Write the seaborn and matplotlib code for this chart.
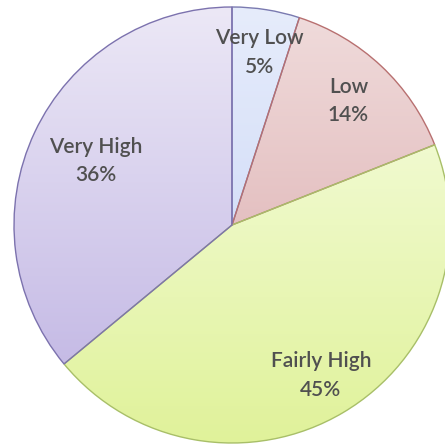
import numpy as np
import matplotlib
matplotlib.use("Agg")
import matplotlib.pyplot as plt
from matplotlib.colors import LinearSegmentedColormap
import seaborn as sns

# slice data, clockwise from 12 o'clock
categories = ["Very Low", "Low", "Fairly High", "Very High"]
percent = [5, 14, 45, 36]

# gradient colours (top, bottom) and edge colour per slice
top_colors = ["#e6ecfb", "#f0dcdc", "#f8fee8", "#ece8f6"]
bottom_colors = ["#c4d2f6", "#d8a4a6", "#e0f29a", "#bdb1e2"]
edge_colors = ["#7a7ab0", "#b87070", "#a8bf68", "#7c72ae"]
label_dist = [0.80, 0.78, 0.80, 0.69]

sns.set_theme(style="white")
plt.rcParams["font.family"] = ["Lato", "DejaVu Sans"]

fig = plt.figure(figsize=(4.45, 4.46), dpi=100)
ax = fig.add_axes([0, 0, 1, 1])

wedges, _ = ax.pie(percent, startangle=90, counterclock=False,
                   colors=bottom_colors, radius=1,
                   wedgeprops=dict(linewidth=1.0))

# vertical gradient fill inside each wedge
grad = np.linspace(0, 1, 256).reshape(-1, 1)
for w, c0, c1, ec in zip(wedges, top_colors, bottom_colors, edge_colors):
    w.set_edgecolor(ec)
    cmap = LinearSegmentedColormap.from_list("g", [c0, c1])
    im = ax.imshow(grad, cmap=cmap, extent=[-1, 1, -1, 1], origin="upper",
                   aspect="auto", zorder=1, interpolation="bilinear")
    im.set_clip_path(w)
    w.set_facecolor("none")
    w.set_zorder(2)

# labels placed along each wedge's mid-angle
for w, name, p, d in zip(wedges, categories, percent, label_dist):
    ang = np.deg2rad((w.theta1 + w.theta2) / 2)
    ax.text(d * np.cos(ang), d * np.sin(ang), f"{name}\n{p}%",
            ha="center", va="center", fontsize=15, fontweight="semibold",
            color="#505050", linespacing=1.55, zorder=3)

r_px = 218
ax.set_xlim(-232 / r_px, (445 - 232) / r_px)
ax.set_ylim(-(446 - 225) / r_px, 225 / r_px)
ax.axis("off")

fig.savefig("out.png", dpi=100)
